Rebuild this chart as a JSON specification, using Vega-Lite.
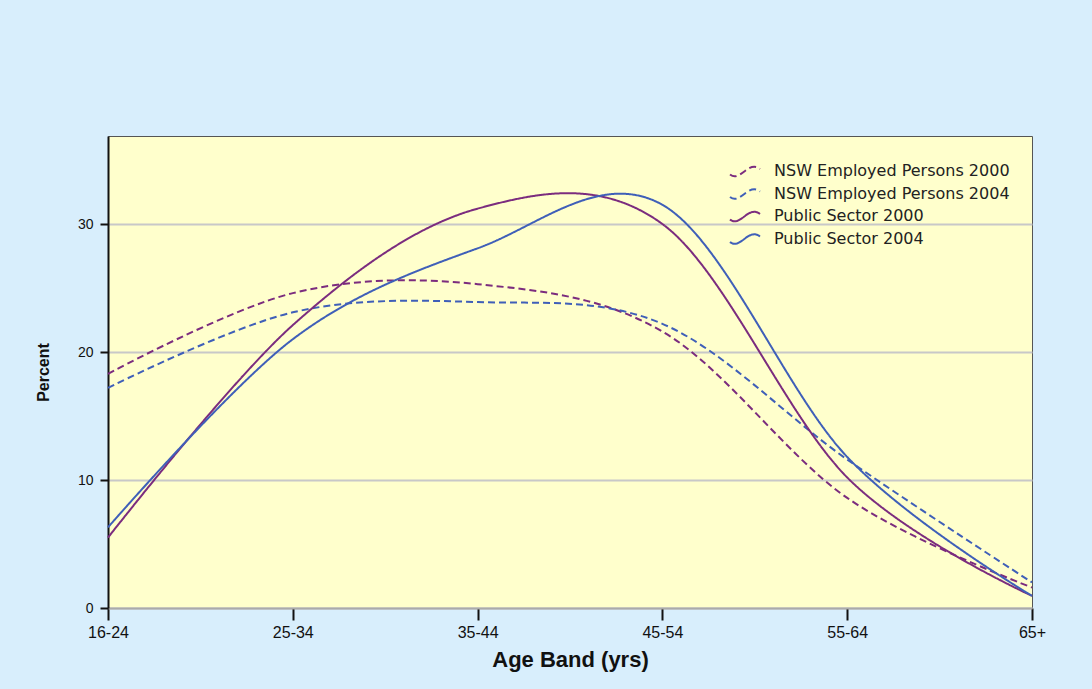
{
  "$schema": "https://vega.github.io/schema/vega-lite/v6.json",
  "width": 924,
  "height": 472,
  "autosize": {"type": "none"},
  "padding": {"left": 108, "top": 136, "right": 60, "bottom": 81},
  "background": "#D8EEFC",
  "config": {
    "view": {"fill": "#FFFFCC", "stroke": "#555555", "strokeWidth": 1}
  },
  "data": {
    "values": [
      {"age": "16-24", "series": "NSW Employed Persons 2000", "pct": 18.3},
      {"age": "25-34", "series": "NSW Employed Persons 2000", "pct": 24.6},
      {"age": "35-44", "series": "NSW Employed Persons 2000", "pct": 25.3},
      {"age": "45-54", "series": "NSW Employed Persons 2000", "pct": 21.6},
      {"age": "55-64", "series": "NSW Employed Persons 2000", "pct": 8.6},
      {"age": "65+", "series": "NSW Employed Persons 2000", "pct": 1.6},
      {"age": "16-24", "series": "NSW Employed Persons 2004", "pct": 17.2},
      {"age": "25-34", "series": "NSW Employed Persons 2004", "pct": 23.1},
      {"age": "35-44", "series": "NSW Employed Persons 2004", "pct": 23.9},
      {"age": "45-54", "series": "NSW Employed Persons 2004", "pct": 22.2},
      {"age": "55-64", "series": "NSW Employed Persons 2004", "pct": 11.6},
      {"age": "65+", "series": "NSW Employed Persons 2004", "pct": 2.0},
      {"age": "16-24", "series": "Public Sector 2000", "pct": 5.5},
      {"age": "25-34", "series": "Public Sector 2000", "pct": 22.1},
      {"age": "35-44", "series": "Public Sector 2000", "pct": 31.2},
      {"age": "45-54", "series": "Public Sector 2000", "pct": 30.0},
      {"age": "55-64", "series": "Public Sector 2000", "pct": 10.2},
      {"age": "65+", "series": "Public Sector 2000", "pct": 0.95},
      {"age": "16-24", "series": "Public Sector 2004", "pct": 6.3},
      {"age": "25-34", "series": "Public Sector 2004", "pct": 21.0},
      {"age": "35-44", "series": "Public Sector 2004", "pct": 28.1},
      {"age": "45-54", "series": "Public Sector 2004", "pct": 31.5},
      {"age": "55-64", "series": "Public Sector 2004", "pct": 11.8},
      {"age": "65+", "series": "Public Sector 2004", "pct": 0.95}
    ]
  },
  "mark": {"type": "line", "interpolate": "cardinal", "strokeWidth": 2},
  "encoding": {
    "x": {
      "field": "age",
      "type": "ordinal",
      "sort": ["16-24", "25-34", "35-44", "45-54", "55-64", "65+"],
      "scale": {"type": "point", "padding": 0},
      "axis": {
        "title": "Age Band (yrs)",
        "labelAngle": 0,
        "labelFont": "Liberation Sans, Arial, sans-serif",
        "labelFontSize": 16,
        "labelColor": "#111111",
        "labelPadding": 4,
        "tickSize": 12,
        "tickColor": "#111111",
        "tickWidth": 2,
        "domainColor": "#AAAAAA",
        "domainWidth": 2,
        "grid": false,
        "titleFont": "Liberation Sans, Arial, sans-serif",
        "titleFontSize": 22,
        "titleFontWeight": "bold",
        "titleColor": "#111111",
        "titlePadding": 9
      }
    },
    "y": {
      "field": "pct",
      "type": "quantitative",
      "scale": {"domain": [0, 36.875], "nice": false, "zero": true},
      "axis": {
        "title": "Percent",
        "values": [0, 10, 20, 30],
        "labelFont": "Liberation Sans, Arial, sans-serif",
        "labelFontSize": 14,
        "labelColor": "#111111",
        "labelPadding": 7,
        "tickSize": 8,
        "tickColor": "#111111",
        "tickWidth": 2,
        "domainColor": "#111111",
        "domainWidth": 2,
        "grid": true,
        "gridColor": "#C8C8C8",
        "gridWidth": 2,
        "titleFont": "Liberation Sans, Arial, sans-serif",
        "titleFontSize": 16,
        "titleFontWeight": "bold",
        "titleColor": "#111111",
        "titlePadding": 26
      }
    },
    "color": {
      "field": "series",
      "type": "nominal",
      "scale": {
        "domain": ["NSW Employed Persons 2000", "NSW Employed Persons 2004", "Public Sector 2000", "Public Sector 2004"],
        "range": ["#7B2C7E", "#3F5FB8", "#7B2C7E", "#3F5FB8"]
      },
      "legend": {
        "title": null,
        "orient": "none",
        "legendX": 626,
        "legendY": 24,
        "symbolType": "M-1.5,0.35 C-1.0,0.75 -0.6,0.45 0,0 C0.5,-0.4 1.0,-0.6 1.5,-0.2",
        "symbolSize": 400,
        "symbolStrokeWidth": 2,
        "symbolFillColor": "transparent",
        "labelFont": "DejaVu Sans, sans-serif",
        "labelFontSize": 16,
        "labelColor": "#222222",
        "labelOffset": 18,
        "labelLimit": 400,
        "rowPadding": 1.5
      }
    },
    "strokeDash": {
      "field": "series",
      "type": "nominal",
      "scale": {
        "domain": ["NSW Employed Persons 2000", "NSW Employed Persons 2004", "Public Sector 2000", "Public Sector 2004"],
        "range": [[7, 4], [7, 4], [1, 0], [1, 0]]
      },
      "legend": {
        "title": null,
        "orient": "none",
        "legendX": 626,
        "legendY": 24
      }
    }
  }
}
